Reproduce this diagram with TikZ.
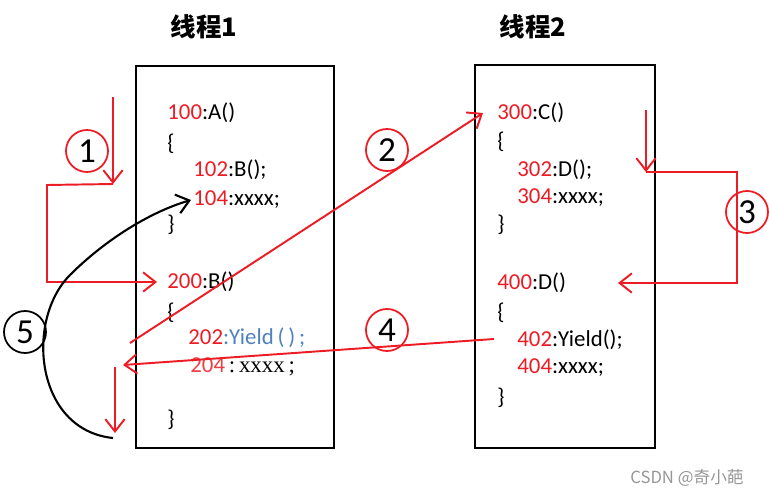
\documentclass[tikz,border=0pt]{standalone}
\usepackage{fontspec}
\setmainfont{Carlito}
\newfontfamily\cjk{Noto Sans CJK SC}
\newfontfamily\serifx{Liberation Serif}
\usetikzlibrary{arrows.meta}
\definecolor{pen}{RGB}{237,28,36}
\definecolor{yieldblue}{RGB}{79,129,189}
\definecolor{mark}{RGB}{150,150,150}
\tikzset{
  >={Straight Barb[length=7pt,width=11pt]},
  thread/.style={draw,line width=1.2pt},
  code/.style={anchor=west,inner sep=0pt,font=\fontsize{13}{15}\selectfont},
  title/.style={font=\cjk\bfseries\fontsize{14.5}{17}\selectfont},
  flow/.style={->,draw=pen,line width=1.1pt},
  flow/.default=pen,
  num/.style={circle,draw=#1,line width=1pt,minimum size=8.4mm,inner sep=0pt,
    font=\fontsize{20}{22}\selectfont},
  num/.default=pen,
}
\newcommand{\addr}[2]{\textcolor{pen}{#1}:#2}

\begin{document}
\begin{tikzpicture}[x=0.02cm,y=-0.02cm]
  \useasboundingbox (0,0) rectangle (769,497);
  % threads
  \node[title] (t1) at (204,27) {线程1};
  \node[title] (t2) at (533,27) {线程2};
  \draw[thread] (136,66) rectangle (334,448);
  \draw[thread] (475,65) rectangle (655,448);

  % thread 1 code
  \node[code] (a100) at (167,113) {\addr{100}{A()}};
  \node[code] (b1) at (167,144) {\{};
  \node[code] (a102) at (193,170) {\addr{102}{B();}};
  \node[code] (a104) at (193,200) {\addr{104}{xxxx;}};
  \node[code] (e1) at (167,225) {\}};
  \node[code] (a200) at (167,282) {\addr{200}{B()}};
  \node[code] (b2) at (167,313) {\{};
  \node[code] (a202) at (188,338) {\textcolor{pen}{202}\textcolor{yieldblue}{:Yield\,(\,)\,;}};
  \node[code] (a204) at (190,367) {\textcolor{pen!85}{204}{\serifx\,:\,xxxx\,;}};
  \node[code] (e2) at (167,420) {\}};

  % thread 2 code
  \node[code] (a300) at (497,113) {\addr{300}{C()}};
  \node[code] (b3) at (497,142) {\{};
  \node[code] (a302) at (517,170) {\addr{302}{D();}};
  \node[code] (a304) at (517,198) {\addr{304}{xxxx;}};
  \node[code] (e3) at (497,225) {\}};
  \node[code] (a400) at (497,283) {\addr{400}{D()}};
  \node[code] (b4) at (497,313) {\{};
  \node[code] (a402) at (517,340) {\addr{402}{Yield();}};
  \node[code] (a404) at (517,368) {\addr{404}{xxxx;}};
  \node[code] (e4) at (497,398) {\}};

  % step 1
  \coordinate (s1a) at (113,97);
  \coordinate (s1b) at (113,184);
  \coordinate (s1c) at (47,185);
  \coordinate (s1d) at (47,282);
  \draw[flow] (s1a) -- (s1b);
  \draw[flow] (s1b) -- (s1c) -- (s1d) -- ([xshift=-10*0.02cm]a200.west);
  \node[num] (n1) at (87,151) {1};

  % step 2
  \coordinate (s2a) at (130,343);
  \draw[flow] (s2a) -- ([xshift=-14*0.02cm]a300.west);
  \node[num] (n2) at (387,150) {2};

  % step 3
  \coordinate (s3a) at (646,110);
  \coordinate (s3b) at (646,172);
  \coordinate (s3c) at (737,172);
  \coordinate (s3d) at (737,283);
  \coordinate (s3e) at (618,283);
  \draw[flow] (s3a) -- (s3b);
  \draw[flow] (s3b) -- (s3c) -- (s3d) -- (s3e);
  \node[num] (n3) at (747,212) {3};

  % step 4
  \coordinate (s4a) at (494,339);
  \coordinate (s4b) at (123,365);
  \draw[flow] (s4a) -- (s4b);
  \node[num] (n4) at (387,330) {4};

  % return
  \coordinate (r1) at (115,367);
  \coordinate (r2) at (115,433);
  \draw[flow] (r1) -- (r2);

  % step 5
  \coordinate (s5a) at (113,438);
  \coordinate (s5b) at (70,275);
  \draw[->,line width=1.2pt] (s5a) .. controls (35,430) and (25,320) .. (s5b)
    .. controls (105,240) and (150,212) .. ([xshift=-2*0.02cm]a104.west);
  \node[num=black] (n5) at (25,332) {5};

  \node[font=\cjk\fontsize{9.5}{11}\selectfont,text=mark] (wm) at (687,478) {CSDN @奇小葩};
\end{tikzpicture}
\end{document}
